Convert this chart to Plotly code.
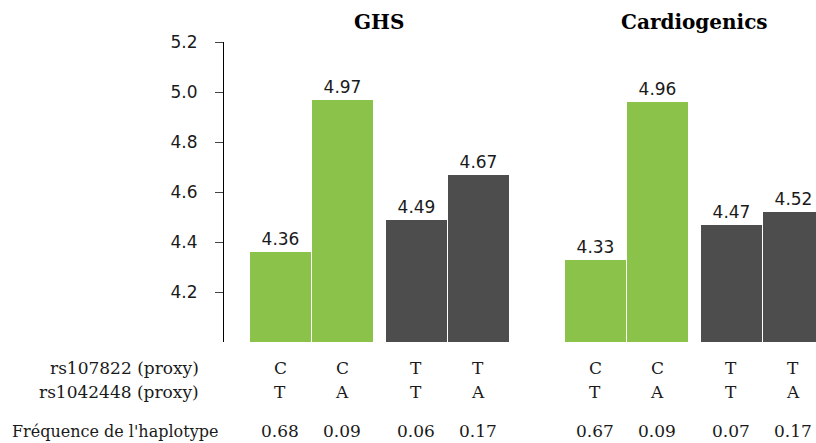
import plotly.graph_objects as go

# ---- data ----
groups = ["GHS", "Cardiogenics"]
rs107822 = ["C", "C", "T", "T"]
rs1042448 = ["T", "A", "T", "A"]
ghs_values = [4.36, 4.97, 4.49, 4.67]
cardio_values = [4.33, 4.96, 4.47, 4.52]
ghs_freq = ["0.68", "0.09", "0.06", "0.17"]
cardio_freq = ["0.67", "0.09", "0.07", "0.17"]
row_labels = ["rs107822 (proxy)", "rs1042448 (proxy)", "Fréquence de l'haplotype"]
y_ticks = [4.2, 4.4, 4.6, 4.8, 5.0, 5.2]

# ---- layout constants ----
GREEN = "#8BC34A"
DARK = "#4D4D4D"
bar_colors = [GREEN, GREEN, DARK, DARK]
pair_gap = 0.19
group_starts = [0.0, 5.08]

positions = []
for gs in group_starts:
    positions.append([gs + i + (pair_gap if i >= 2 else 0) for i in range(4)])

SANS = "DejaVu Sans"
SERIF = "DejaVu Serif"
TXT = "#1a1a1a"

fig = go.Figure()
for g, vals, pos in zip(groups, [ghs_values, cardio_values], positions):
    fig.add_trace(go.Bar(
        x=pos, y=vals, width=0.985,
        marker=dict(color=bar_colors, line=dict(width=0)),
        text=[f"{v:.2f}" for v in vals], textposition="outside",
        textfont=dict(family=SANS, size=17, color=TXT),
        cliponaxis=False, showlegend=False, name=g,
    ))

annotations = []
for g, pos in zip(groups, positions):
    center = (pos[0] + pos[3]) / 2
    annotations.append(dict(x=center, y=1.067, xref="x", yref="paper",
                            text=f"<b>{g}</b>", showarrow=False,
                            font=dict(family=SERIF, size=20, color="black"),
                            xanchor="center", yanchor="middle"))

row_y = [-0.087, -0.167, -0.297]
for g, pos, freqs in zip(groups, positions, [ghs_freq, cardio_freq]):
    for i, p in enumerate(pos):
        for ry, txt in zip(row_y, [rs107822[i], rs1042448[i], freqs[i]]):
            annotations.append(dict(x=p, y=ry, xref="x", yref="paper", text=txt,
                                    showarrow=False, xanchor="center", yanchor="middle",
                                    font=dict(family=SERIF, size=17, color=TXT)))
row_x = [-0.039, -0.039, -0.0068]
row_size = [17, 17, 16]
for rx, ry, rs, txt in zip(row_x, row_y, row_size, row_labels):
    annotations.append(dict(x=rx, y=ry, xref="paper", yref="paper", text=txt,
                            showarrow=False, xanchor="right", yanchor="middle",
                            font=dict(family=SERIF, size=rs, color=TXT)))

fig.update_layout(
    width=816, height=443,
    margin=dict(l=224, r=0, t=42, b=101),
    plot_bgcolor="white", paper_bgcolor="white",
    bargap=0,
    xaxis=dict(range=[-0.911, 8.637], showticklabels=False, showgrid=False,
               zeroline=False, showline=False, ticks=""),
    yaxis=dict(range=[4.0, 5.2], tickvals=y_ticks, ticktext=[f"{t:.1f}" for t in y_ticks],
               showgrid=False, zeroline=False, showline=True, linecolor="black", linewidth=1,
               ticks="outside", ticklen=8, tickcolor="#444", tickwidth=1,
               ticklabelstandoff=14,
               tickfont=dict(family=SANS, size=17, color=TXT)),
    annotations=annotations,
)

fig.write_html("out.html", config={"displayModeBar": False},
               post_script="document.body.style.margin='0';document.body.style.padding='0';document.body.style.overflow='hidden';")
